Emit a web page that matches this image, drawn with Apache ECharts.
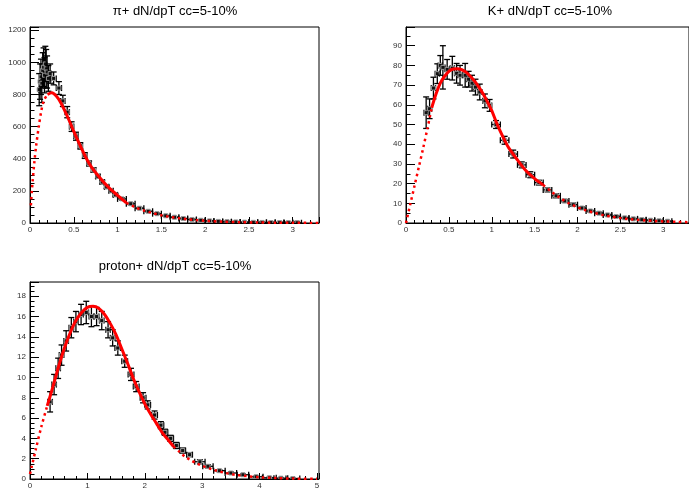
<!DOCTYPE html>
<html>
<head>
<meta charset="utf-8">
<title>dN/dpT cc=5-10%</title>
<script src="https://cdn.jsdelivr.net/npm/echarts@6/dist/echarts.min.js"></script>
<style>
  html, body { margin: 0; padding: 0; background: #fff; }
  #chart { width: 689px; height: 494px; }
</style>
</head>
<body>
<div id="chart"></div>
<script>
// pi+ spectrum: pT, dN/dpT, stat error, half bin width
const piX    = [0.105, 0.115, 0.125, 0.135, 0.145, 0.155, 0.165, 0.175, 0.185, 0.195, 0.21, 0.23, 0.27, 0.33, 0.375, 0.425, 0.475, 0.525, 0.575, 0.625, 0.675, 0.725, 0.775, 0.825, 0.875, 0.925, 0.975, 1.05, 1.15, 1.25, 1.35, 1.45, 1.55, 1.65, 1.75, 1.85, 1.95, 2.05, 2.15, 2.25, 2.35, 2.45, 2.55, 2.65, 2.75, 2.85, 2.95, 3.05];
const piY    = [830, 880, 910, 870, 950, 970, 920, 990, 960, 940, 900, 930, 900, 840, 760, 690, 600, 540, 480, 420, 370, 330, 290, 255, 225, 200, 175, 150, 120, 92, 73, 58, 45, 36, 28, 22, 17, 13, 10, 8, 6.5, 5, 4, 3.5, 3, 2.5, 2, 1.5];
const piYErr = [100, 110, 110, 120, 110, 120, 110, 110, 120, 100, 80, 60, 40, 40, 35, 35, 30, 25, 20, 18, 15, 14, 12, 11, 10, 9, 8, 7, 6, 5, 4, 4, 3, 3, 3, 3, 3, 3, 3, 3, 3, 3, 3, 4, 4, 5, 6, 8];
const piXErr = [0.005, 0.005, 0.005, 0.005, 0.005, 0.005, 0.005, 0.005, 0.005, 0.005, 0.01, 0.01, 0.03, 0.03, 0.025, 0.025, 0.025, 0.025, 0.025, 0.025, 0.025, 0.025, 0.025, 0.025, 0.025, 0.025, 0.025, 0.05, 0.05, 0.05, 0.05, 0.05, 0.05, 0.05, 0.05, 0.05, 0.05, 0.05, 0.05, 0.05, 0.05, 0.05, 0.05, 0.05, 0.05, 0.05, 0.05, 0.05];
const piFitX = [0.01, 0.02, 0.03, 0.05, 0.07, 0.1, 0.13, 0.16, 0.2, 0.25, 0.3, 0.35, 0.4, 0.45, 0.5, 0.55, 0.6, 0.65, 0.7, 0.8, 0.9, 1.0, 1.1, 1.2, 1.3, 1.4, 1.5, 1.6, 1.7, 1.8, 1.9, 2.0, 2.2, 2.4, 2.6, 2.8, 3.0, 3.3];
const piFitY = [110, 190, 260, 380, 480, 600, 700, 765, 800, 810, 790, 750, 695, 635, 570, 510, 450, 395, 350, 280, 220, 172, 125, 98, 78, 62, 48, 38, 30, 23, 18, 14, 8, 5, 3, 2, 1.2, 0.5];
const piFitRange = [0.2, 1.1];

// K+ spectrum
const kX    = [0.235, 0.275, 0.32, 0.365, 0.4, 0.43, 0.48, 0.54, 0.59, 0.63, 0.69, 0.73, 0.77, 0.81, 0.86, 0.92, 0.975, 1.05, 1.15, 1.25, 1.35, 1.45, 1.55, 1.65, 1.75, 1.85, 1.95, 2.05, 2.15, 2.25, 2.35, 2.45, 2.55, 2.65, 2.75, 2.85, 2.95, 3.05];
const kY    = [56, 58, 68.5, 75.8, 80, 79, 78, 78.6, 76, 75, 75, 73, 71, 69, 66.5, 62, 59.7, 50, 42, 35, 29.5, 24.5, 20.5, 16.8, 13.8, 11.2, 9.3, 7.6, 6.1, 5, 4.1, 3.3, 2.6, 2.1, 1.7, 1.4, 1.1, 0.9];
const kYErr = [8, 5, 5.5, 5, 5, 11, 5, 6, 5, 5, 6, 4, 4, 4, 4, 3.5, 3, 2, 2, 2, 1.5, 1.5, 1.2, 1, 1, 0.8, 0.8, 0.6, 0.5, 0.5, 0.4, 0.4, 0.3, 0.3, 0.3, 0.3, 0.3, 0.3];
const kXErr = [0.025, 0.025, 0.025, 0.025, 0.025, 0.025, 0.025, 0.025, 0.025, 0.025, 0.025, 0.025, 0.025, 0.025, 0.025, 0.025, 0.025, 0.05, 0.05, 0.05, 0.05, 0.05, 0.05, 0.05, 0.05, 0.05, 0.05, 0.05, 0.05, 0.05, 0.05, 0.05, 0.05, 0.05, 0.05, 0.05, 0.05, 0.05];
const kFitX = [0, 0.05, 0.1, 0.15, 0.2, 0.25, 0.3, 0.35, 0.4, 0.45, 0.5, 0.55, 0.6, 0.65, 0.7, 0.75, 0.8, 0.85, 0.9, 0.95, 1.0, 1.05, 1.1, 1.15, 1.2, 1.3, 1.4, 1.5, 1.6, 1.7, 1.8, 1.9, 2.0, 2.1, 2.2, 2.3, 2.4, 2.5, 2.6, 2.7, 2.8, 2.9, 3.0, 3.15, 3.3];
const kFitY = [0, 9.5, 19, 28.5, 38, 48, 58.5, 65.5, 71, 74.5, 77, 78.2, 78.3, 77.8, 76.6, 74.5, 72, 69, 65.5, 61.5, 57, 51.5, 46.5, 42, 38, 32, 26.5, 22.5, 19.3, 15.8, 12.6, 10, 8, 6.4, 5.1, 4, 3.2, 2.5, 2, 1.6, 1.3, 1.0, 0.8, 0.6, 0.4];
const kFitRange = [0.3, 1.6];

// proton spectrum
const pX    = [0.35, 0.42, 0.49, 0.55, 0.63, 0.72, 0.8, 0.89, 0.98, 1.07, 1.16, 1.25, 1.36, 1.44, 1.53, 1.65, 1.76, 1.85, 1.97, 2.05, 2.17, 2.28, 2.35, 2.45, 2.55, 2.66, 2.78, 2.96, 3.1, 3.3, 3.5, 3.71, 3.94, 4.17, 4.37, 4.58];
const pY    = [7.6, 9.3, 10.9, 12.2, 13.6, 14.9, 15.5, 16.2, 16.4, 16.0, 16.0, 15.6, 14.7, 13.9, 12.9, 11.6, 10.3, 9.1, 8.0, 7.3, 6.3, 5.3, 4.6, 4.0, 3.3, 2.8, 2.4, 1.7, 1.25, 0.82, 0.59, 0.42, 0.22, 0.12, 0.08, 0.05];
const pYErr = [1, 1, 1, 1, 1, 1, 1, 1, 1.1, 1, 0.9, 0.9, 0.8, 0.8, 0.7, 0.6, 0.6, 0.5, 0.5, 0.4, 0.4, 0.35, 0.3, 0.3, 0.3, 0.25, 0.2, 0.2, 0.15, 0.1, 0.1, 0.08, 0.06, 0.05, 0.04, 0.03];
const pXErr = [0.04, 0.04, 0.04, 0.04, 0.04, 0.04, 0.04, 0.04, 0.04, 0.04, 0.04, 0.04, 0.04, 0.04, 0.05, 0.05, 0.05, 0.05, 0.05, 0.05, 0.05, 0.05, 0.05, 0.05, 0.05, 0.05, 0.05, 0.09, 0.09, 0.1, 0.1, 0.1, 0.12, 0.12, 0.12, 0.12];
const pFitX = [0, 0.1, 0.2, 0.3, 0.4, 0.5, 0.6, 0.7, 0.8, 0.9, 1.0, 1.1, 1.2, 1.3, 1.4, 1.5, 1.6, 1.7, 1.8, 1.9, 2.0, 2.1, 2.2, 2.3, 2.4, 2.5, 2.6, 2.7, 2.8, 2.9, 3.0, 3.2, 3.4, 3.6, 3.8, 4.0, 4.3, 4.6, 5.0];
const pFitY = [0.5, 2.9, 5.2, 7.2, 9.1, 11.1, 12.9, 14.4, 15.6, 16.4, 16.9, 17.0, 16.8, 16.2, 15.3, 14.2, 12.8, 11.4, 9.9, 8.6, 7.4, 6.4, 5.5, 4.6, 3.9, 3.2, 2.7, 2.2, 1.85, 1.55, 1.3, 0.9, 0.6, 0.4, 0.27, 0.17, 0.09, 0.04, 0.02];
const pFitRange = [0.3, 2.5];

const FONT = '"Liberation Sans", Arial, Helvetica, sans-serif';

const panels = [
    { title: 'π+ dN/dpT cc=5-10%', tx: 175, ty: 5, grid: { left: 30, top: 27, width: 289, height: 196 },
      xMax: 3.3, xInt: 0.5, xMinor: 5, yMax: 1220, yInt: 200, yMinor: 4,
      x: piX, y: piY, ey: piYErr, ex: piXErr, fx: piFitX, fy: piFitY, range: piFitRange },
    { title: 'K+ dN/dpT cc=5-10%', tx: 550, ty: 5, grid: { left: 406, top: 27, width: 289, height: 196 },
      xMax: 3.3, xInt: 0.5, xMinor: 5, yMax: 99.5, yInt: 10, yMinor: 2,
      x: kX, y: kY, ey: kYErr, ex: kXErr, fx: kFitX, fy: kFitY, range: kFitRange },
    { title: 'proton+ dN/dpT cc=5-10%', tx: 175, ty: 260, grid: { left: 30, top: 282, width: 289, height: 197 },
      xMax: 5.035, xInt: 1, xMinor: 5, yMax: 19.4, yInt: 2, yMinor: 4,
      x: pX, y: pY, ey: pYErr, ex: pXErr, fx: pFitX, fy: pFitY, range: pFitRange }
];

const fmt = v => String(Math.round(v * 1000) / 1000);

// ROOT-like error bars with end caps and a small square marker
function renderErr(params, api) {
    const x = api.value(0), y = api.value(1), ey = api.value(2), ex = api.value(3);
    const c = api.coord([x, y]);
    const t = api.coord([x, y + ey]);
    const b = api.coord([x, y - ey]);
    const l = api.coord([x - ex, y]);
    const r = api.coord([x + ex, y]);
    const cap = 3;
    const st = { stroke: '#000', lineWidth: 1.3 };
    const cx = c[0], cy = c[1];
    const seg = (x1, y1, x2, y2) => ({ type: 'line', shape: { x1, y1, x2, y2 }, style: st });
    return {
        type: 'group',
        children: [
            seg(cx, t[1], cx, b[1]),
            seg(cx - cap, t[1], cx + cap, t[1]),
            seg(cx - cap, b[1], cx + cap, b[1]),
            seg(l[0], cy, r[0], cy),
            seg(l[0], cy - cap, l[0], cy + cap),
            seg(r[0], cy - cap, r[0], cy + cap),
            { type: 'rect', shape: { x: cx - 2, y: cy - 2, width: 4, height: 4 },
              style: { fill: '#111', stroke: '#999', lineWidth: 1 } }
        ]
    };
}

const option = { animation: false, backgroundColor: '#fff', title: [], grid: [], xAxis: [], yAxis: [], series: [] };

panels.forEach((p, i) => {
    option.title.push({
        text: p.title, left: p.tx, top: p.ty, textAlign: 'center', padding: 0,
        textStyle: { fontFamily: FONT, fontSize: 13, fontWeight: 'normal', color: '#000' }
    });
    option.grid.push(Object.assign({ show: true, borderColor: '#000', borderWidth: 1, backgroundColor: '#fff' }, p.grid));
    const axisBase = {
        gridIndex: i, type: 'value', min: 0,
        axisLine: { show: true, onZero: false, lineStyle: { color: '#000', width: 1 } },
        splitLine: { show: false },
        axisLabel: { fontFamily: FONT, fontSize: 8, color: '#333', showMaxLabel: false, formatter: fmt }
    };
    option.xAxis.push(Object.assign({}, axisBase, {
        max: p.xMax, interval: p.xInt,
        axisTick: { inside: true, length: 6, lineStyle: { color: '#000' } },
        minorTick: { show: true, splitNumber: p.xMinor, length: 3, lineStyle: { color: '#000' } },
        axisLabel: Object.assign({}, axisBase.axisLabel, { margin: 3 })
    }));
    option.yAxis.push(Object.assign({}, axisBase, {
        max: p.yMax, interval: p.yInt,
        axisTick: { inside: true, length: 9, lineStyle: { color: '#000' } },
        minorTick: { show: true, splitNumber: p.yMinor, length: 4.5, lineStyle: { color: '#000' } },
        axisLabel: Object.assign({}, axisBase.axisLabel, { margin: 4 })
    }));

    option.series.push({
        type: 'custom', xAxisIndex: i, yAxisIndex: i, clip: true, z: 3,
        renderItem: renderErr,
        encode: { x: 0, y: 1 },
        data: p.x.map((x, j) => [x, p.y[j], p.ey[j], p.ex[j]])
    });
    const lo = p.range[0], hi = p.range[1];
    option.series.push({
        type: 'line', xAxisIndex: i, yAxisIndex: i, z: 4, showSymbol: false, symbol: 'none',
        smooth: 0.3, connectNulls: false, clip: true,
        lineStyle: { color: '#ff0000', width: 2.5, type: [2.5, 3.5], cap: 'butt' },
        data: p.fx.map((x, j) => (x <= lo || x >= hi) ? [x, p.fy[j]] : [x, '-'])
    });
    option.series.push({
        type: 'line', xAxisIndex: i, yAxisIndex: i, z: 5, showSymbol: false, symbol: 'none',
        smooth: 0.3, clip: true,
        lineStyle: { color: '#ff0000', width: 3 },
        data: p.fx.map((x, j) => [x, p.fy[j]]).filter(d => d[0] >= lo && d[0] <= hi)
    });
});

const chart = echarts.init(document.getElementById('chart'), null, { renderer: 'canvas' });
chart.setOption(option);
</script>
</body>
</html>
